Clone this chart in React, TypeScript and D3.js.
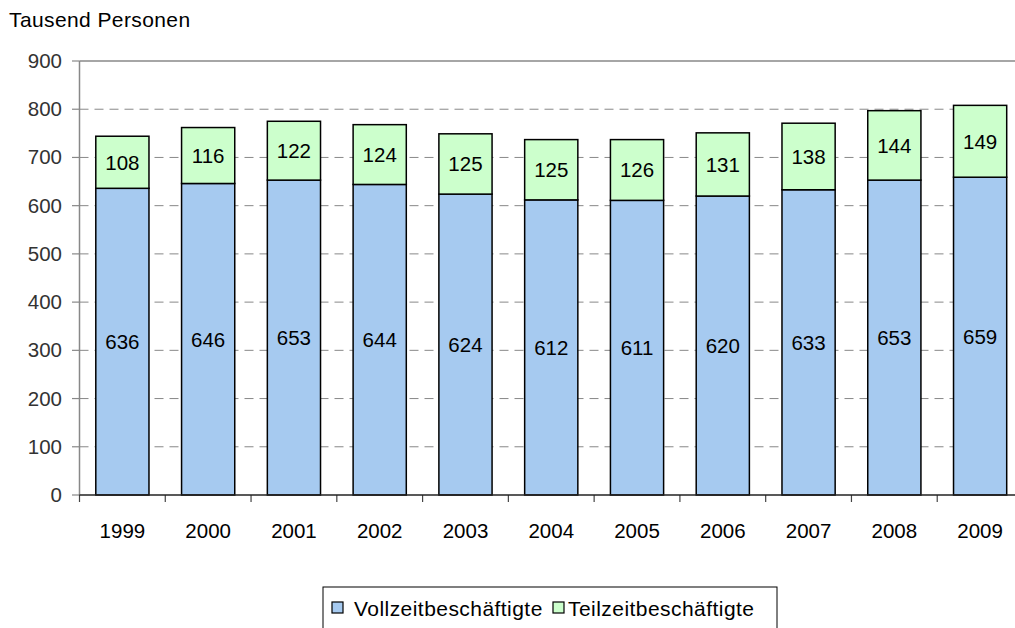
import React from "react";
import * as d3 from "d3";

const years = ["1999", "2000", "2001", "2002", "2003", "2004", "2005", "2006", "2007", "2008", "2009"];
const vollzeit = [636, 646, 653, 644, 624, 612, 611, 620, 633, 653, 659];
const teilzeit = [108, 116, 122, 124, 125, 125, 126, 131, 138, 144, 149];
const yTicks = [0, 100, 200, 300, 400, 500, 600, 700, 800, 900];
const seriesNames = ["Vollzeitbeschäftigte", "Teilzeitbeschäftigte"];
const colors = ["#A6CAF0", "#CCFFCC"];

const W = 1015, H = 628;
const left = 79.5, right = 1023, top = 61, bottom = 495;

export default function App() {
  const x = d3.scaleBand<string>().domain(years).range([left, right]).paddingInner(0.38).paddingOuter(0.19);
  const xb = d3.scaleBand<string>().domain(years).range([left, right]);
  const y = d3.scaleLinear().domain([0, 900]).range([bottom, top]);
  const stack = d3.stack<any>().keys(["v", "t"])(years.map((yr, i) => ({ yr, v: vollzeit[i], t: teilzeit[i] })));
  const font = "Liberation Sans, Arial, sans-serif";
  return (
    <svg width={W} height={H} style={{ position: "absolute", left: 0, top: 0, background: "#fff" }} fontFamily={font}>
      <text x={9} y={26.5} fontSize={21} letterSpacing={0.4} fill="#000">Tausend Personen</text>
      {yTicks.filter(t => t > 0 && t < 900).map(t => (
        <line key={t} x1={left} x2={1008} y1={y(t)} y2={y(t)} stroke="#888" strokeDasharray="9,6" strokeWidth={1} />
      ))}
      <line x1={left} x2={W} y1={y(900)} y2={y(900)} stroke="#888" strokeWidth={1.5} />
      <line x1={left} x2={left} y1={top} y2={bottom} stroke="#888" strokeWidth={1.5} />
      {yTicks.map(t => (
        <g key={t}>
          <line x1={72} x2={left} y1={y(t)} y2={y(t)} stroke="#888" strokeWidth={1.2} />
          <text x={62} y={y(t) + 7} textAnchor="end" fontSize={20.5} fill="#333">{t}</text>
        </g>
      ))}
      {years.map((yr, i) => (
        <g key={yr}>
          <line x1={xb(yr)!} x2={xb(yr)!} y1={bottom} y2={bottom + 7} stroke="#444" strokeWidth={1.2} />
          <text x={xb(yr)! + xb.bandwidth() / 2} y={538} textAnchor="middle" fontSize={20.5} fill="#000">{yr}</text>
        </g>
      ))}
      {stack.map((s, si) => s.map((d, i) => (
        <g key={si + "-" + i}>
          <rect x={x(years[i])!} width={x.bandwidth()} y={y(d[1])} height={y(d[0]) - y(d[1])}
            fill={colors[si]} stroke="#000" strokeWidth={1.5} />
          <text x={x(years[i])! + x.bandwidth() / 2} y={(y(d[0]) + y(d[1])) / 2 + 7.5} textAnchor="middle" fontSize={20.5} fill="#000">
            {si === 0 ? vollzeit[i] : teilzeit[i]}
          </text>
        </g>
      )))}
      <line x1={left} x2={W} y1={bottom} y2={bottom} stroke="#222" strokeWidth={1.5} />
      <rect x={323} y={587} width={454} height={60} fill="#fff" stroke="#000" strokeWidth={1} />
      <rect x={332} y={602} width={11} height={11} fill={colors[0]} stroke="#000" strokeWidth={1.2} />
      <text x={354} y={615.5} fontSize={21} letterSpacing={0.45} fill="#000">{seriesNames[0]}</text>
      <rect x={553} y={602} width={11} height={11} fill={colors[1]} stroke="#000" strokeWidth={1.2} />
      <text x={568} y={615.5} fontSize={21} letterSpacing={0.45} fill="#000">{seriesNames[1]}</text>
    </svg>
  );
}
